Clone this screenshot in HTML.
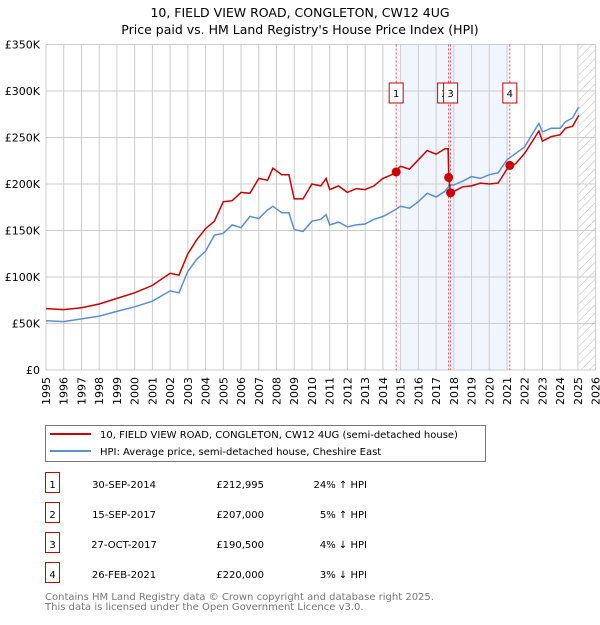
<!DOCTYPE html>
<html><head><meta charset="utf-8"><style>
body{margin:0;background:#fff;font-family:"Liberation Sans","DejaVu Sans",sans-serif}
svg text{font-family:"DejaVu Sans","Liberation Sans",sans-serif}
</style></head><body>
<svg id="c" width="600" height="620" xmlns="http://www.w3.org/2000/svg">
<text x="300" y="17" font-size="12.5" text-anchor="middle">10, FIELD VIEW ROAD, CONGLETON, CW12 4UG</text>
<text x="300" y="34" font-size="12.5" text-anchor="middle">Price paid vs. HM Land Registry's House Price Index (HPI)</text>
<g id="plot"></g>
<g>
<rect x="45.5" y="425.5" width="440" height="36" fill="#fff" stroke="#777"/>
<line x1="50" y1="434" x2="91" y2="434" stroke="#cc0000" stroke-width="2"/>
<text x="100" y="438" font-size="10">10, FIELD VIEW ROAD, CONGLETON, CW12 4UG (semi-detached house)</text>
<line x1="50" y1="451" x2="91" y2="451" stroke="#5b8ed6" stroke-width="2"/>
<text x="100" y="455" font-size="10">HPI: Average price, semi-detached house, Cheshire East</text>
</g>
<g id="tbl" font-size="10"></g>
<text x="45" y="600" font-size="10" fill="#777">Contains HM Land Registry data © Crown copyright and database right 2025.</text>
<text x="45" y="610" font-size="10" fill="#777">This data is licensed under the Open Government Licence v3.0.</text>
</svg>
<script>
const hpiYears=[1995,1996,1997,1998,1999,2000,2001,2002,2002.5,2003,2003.5,2004,2004.5,2005,2005.5,2006,2006.5,2007,2007.5,2007.8,2008.3,2008.7,2009,2009.5,2010,2010.5,2010.8,2011,2011.5,2012,2012.5,2013,2013.5,2014,2014.5,2015,2015.5,2016,2016.5,2017,2017.5,2017.8,2018,2018.5,2019,2019.5,2020,2020.5,2021,2021.5,2022,2022.5,2022.8,2023,2023.5,2024,2024.3,2024.7,2025.05];
const hpiValues=[53,52,55,58,63,68,74,85,83,106,119,128,145,147,156,153,165,163,172,176,169,169,151,149,160,162,167,156,159,154,156,157,162,165,170,176,174,181,190,186,192,199,199,203,208,206,210,212,226,233,240,256,265,256,260,260,267,271,283];
const priceYears=[1995,1996,1997,1998,1999,2000,2001,2002,2002.5,2003,2003.5,2004,2004.5,2005,2005.5,2006,2006.5,2007,2007.5,2007.8,2008.3,2008.7,2009,2009.5,2010,2010.5,2010.8,2011,2011.5,2012,2012.5,2013,2013.5,2014,2014.5,2015,2015.5,2016,2016.5,2017,2017.5,2017.68,2017.72,2017.82,2018,2018.5,2019,2019.5,2020,2020.5,2021,2021.5,2022,2022.5,2022.8,2023,2023.5,2024,2024.3,2024.7,2025.05];
const priceValues=[66,65,67,71,77,83,91,104,102,125,140,152,160,181,182,191,190,206,204,217,210,210,184,184,200,198,206,194,198,191,195,194,198,206,210,219,216,226,236,232,238,238,207,190,192,197,198,201,200,201,216,222,233,248,257,246,251,253,260,262,274];
const saleYears=[2014.75,2017.71,2017.82,2021.16];
const saleValues=[212.995,207,190.5,220];
const saleLabels=["1","2","3","4"];
const saleDates=["30-SEP-2014","15-SEP-2017","27-OCT-2017","26-FEB-2021"];
const salePrices=["£212,995","£207,000","£190,500","£220,000"];
const saleHpi=["24% ↑ HPI","5% ↑ HPI","4% ↓ HPI","3% ↓ HPI"];
const yTicks=[0,50,100,150,200,250,300,350];
const yTickLabels=["£0","£50K","£100K","£150K","£200K","£250K","£300K","£350K"];
const xTicks=[1995,1996,1997,1998,1999,2000,2001,2002,2003,2004,2005,2006,2007,2008,2009,2010,2011,2012,2013,2014,2015,2016,2017,2018,2019,2020,2021,2022,2023,2024,2025,2026];

const NS="http://www.w3.org/2000/svg";
const X=y=>46+(y-1995)*17.73;
const Y=v=>370-v*(325.5/350);
const P=document.getElementById('plot');
function mk(tag,attrs,parent){const e=document.createElementNS(NS,tag);for(const k in attrs)e.setAttribute(k,attrs[k]);(parent||P).appendChild(e);return e;}
let sh=mk('rect',{x:X(2015),y:Y(350),width:X(2021.16)-X(2015),height:Y(0)-Y(350),fill:'#eef3fc',opacity:0.8});


const defs=mk('defs',{});
const pat=mk('pattern',{id:'h',width:6,height:6,patternUnits:'userSpaceOnUse',patternTransform:'rotate(45)'},defs);
mk('line',{x1:0,y1:0,x2:0,y2:6,stroke:'#bbb','stroke-width':1},pat);
let ht=mk('rect',{x:X(2025.05),y:Y(350),width:X(2026)-X(2025.05),height:Y(0)-Y(350),fill:'url(#h)'});


xTicks.forEach(t=>{
  let l=mk('line',{x1:X(t),x2:X(t),y1:Y(350),y2:Y(0),stroke:'#ccc','stroke-width':1});
  
  
  let tx=mk('text',{x:0,y:0,'font-size':11,'text-anchor':'end',transform:`translate(${X(t)+4},377) rotate(-90)`});tx.textContent=t;
  
  
});
yTicks.forEach((t,i)=>{
  let l=mk('line',{x1:X(1995),x2:X(2026),y1:Y(t),y2:Y(t),stroke:'#ccc','stroke-width':1});
  
  
  let tx=mk('text',{x:40,y:Y(t)+4,'font-size':11,'text-anchor':'end'});tx.textContent=yTickLabels[i];
  
  
});
saleYears.forEach(s=>{
  let l=mk('line',{x1:X(s),x2:X(s),y1:Y(350),y2:Y(0),stroke:'#e05050','stroke-width':1,'stroke-dasharray':'2,2'});
  
  
});
function path(xs,vs,col,name){
  let d=xs.map((x,i)=>(i?'L':'M')+X(x).toFixed(1)+','+Y(vs[i]).toFixed(1)).join('');
  let p=mk('path',{d:d,fill:'none',stroke:col,'stroke-width':1.5});
  
  
}
path(hpiYears,hpiValues,'#5b8ed6','hpi-line');
path(priceYears,priceValues,'#cc0000','price-paid-line');
saleYears.forEach((s,i)=>{
  let c=mk('circle',{cx:X(s),cy:Y(saleValues[i]),r:4.5,fill:'#cc0000'});
  
  
  let g=mk('g',{});
  
  
  mk('rect',{x:X(s)-(i==1?11:7),y:83,width:14,height:20,fill:'#fff',stroke:'#cc0000'},g);
  let t=mk('text',{x:X(s)-(i==1?4:0),y:97,'font-size':10,'text-anchor':'middle'},g);t.textContent=saleLabels[i];
});
const T=document.getElementById('tbl');
saleLabels.forEach((lab,i)=>{
  const y=488+i*30;
  let g=mk('g',{},T);
  
  
  mk('rect',{x:45.5,y:y-15.5,width:14,height:20,fill:'#fff',stroke:'#cc0000'},g);
  let t;
  t=mk('text',{x:52.5,y:y,'text-anchor':'middle'},g);t.textContent=lab;
  t=mk('text',{x:124,y:y,'text-anchor':'middle'},g);t.textContent=saleDates[i];
  t=mk('text',{x:264,y:y,'text-anchor':'end'},g);t.textContent=salePrices[i];
  t=mk('text',{x:367,y:y,'text-anchor':'end'},g);t.textContent=saleHpi[i];
});
</script>
</body></html>
